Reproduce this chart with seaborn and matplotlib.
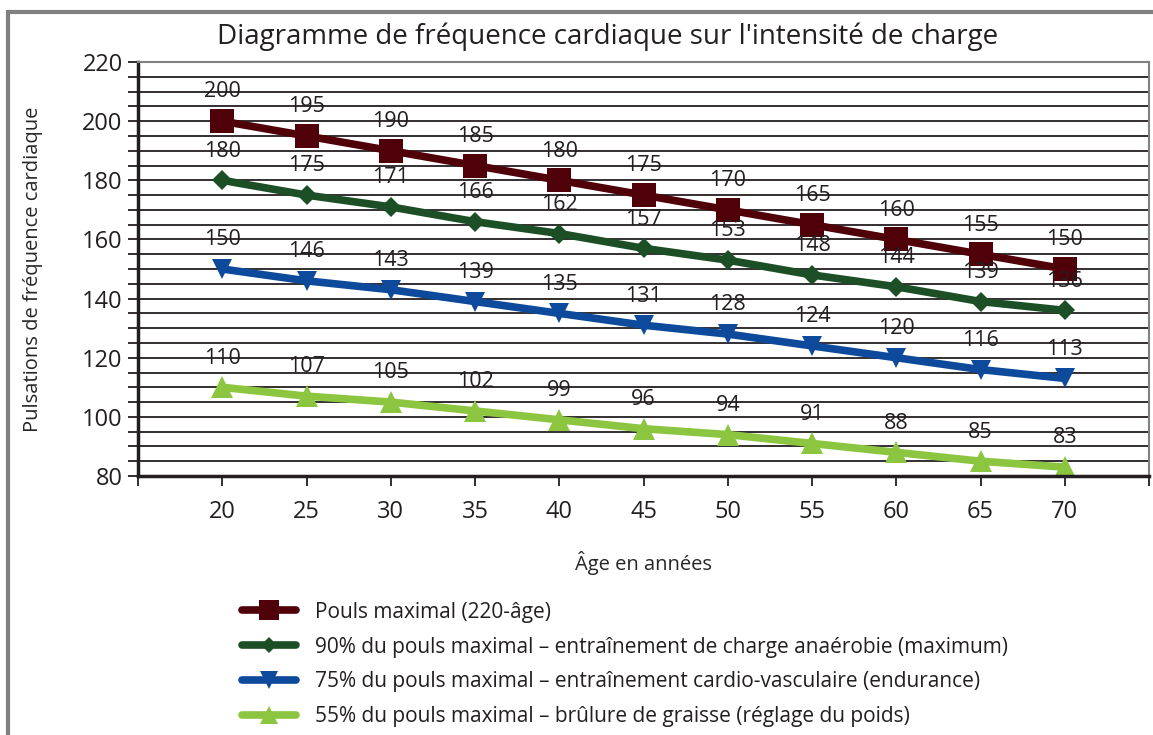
import pandas as pd
import seaborn as sns
import matplotlib.pyplot as plt
from matplotlib.patches import Rectangle

ages = [20, 25, 30, 35, 40, 45, 50, 55, 60, 65, 70]
pouls_max = [200, 195, 190, 185, 180, 175, 170, 165, 160, 155, 150]
pouls_90 = [180, 175, 171, 166, 162, 157, 153, 148, 144, 139, 136]
pouls_75 = [150, 146, 143, 139, 135, 131, 128, 124, 120, 116, 113]
pouls_55 = [110, 107, 105, 102, 99, 96, 94, 91, 88, 85, 83]

labels = [
    "Pouls maximal (220-âge)",
    "90% du pouls maximal – entraînement de charge anaérobie (maximum)",
    "75% du pouls maximal – entraînement cardio-vasculaire (endurance)",
    "55% du pouls maximal – brûlure de graisse (réglage du poids)",
]
colors = ["#4f0008", "#1d4f27", "#0e4a9b", "#8cc540"]
markers = ["s", "D", "v", "^"]
msizes = [17, 10, 15, 16]

sns.set_theme(style="white")
plt.rcParams["font.family"] = ["Open Sans", "DejaVu Sans"]
plt.rcParams["text.color"] = "#231f20"

fig = plt.figure(figsize=(11.53, 7.35), dpi=100)
ax = fig.add_axes([138 / 1153, 1 - 476 / 735, 1011 / 1153, 414 / 735])

# outer frame of the figure
fig.patches.append(Rectangle((8 / 1153, -0.1), 1.2, 1 - 12 / 735 + 0.1,
                             transform=fig.transFigure, fill=False,
                             edgecolor="#808080", linewidth=3))

series = [pouls_max, pouls_90, pouls_75, pouls_55]
for vals, lab, col, mk, ms in zip(series, labels, colors, markers, msizes):
    df = pd.DataFrame({"age": ages, "bpm": vals})
    sns.lineplot(data=df, x="age", y="bpm", ax=ax, color=col, linewidth=5.5,
                 marker=mk, markersize=ms, markeredgewidth=0, label=lab)
    for a, v in zip(ages, vals):
        ax.annotate(str(v), (a, v), xytext=(0, 21), textcoords="offset points",
                    ha="center", va="center", fontsize=15.5, color="#231f20")

ax.set_xlim(15, 75)
ax.set_ylim(80, 220)
ax.set_yticks(range(80, 221, 5))
ax.set_yticklabels([str(t) if t % 20 == 0 else "" for t in range(80, 221, 5)])
ax.set_xticks(range(15, 76, 5))
ax.set_xticklabels([""] + [str(a) for a in ages] + [""])
ax.grid(axis="y", color="#231f20", linewidth=1.3)
ax.grid(axis="x", visible=False)
ax.set_axisbelow(True)
ax.tick_params(axis="both", length=7, width=1.3, color="#231f20",
               labelsize=17, labelcolor="#231f20")
ax.tick_params(axis="x", pad=10)
ax.tick_params(axis="y", pad=4)
ax.tick_params(left=True, bottom=True)

for side in ["left", "bottom"]:
    ax.spines[side].set_color("#231f20")
    ax.spines[side].set_linewidth(2.5)
for side in ["top", "right"]:
    ax.spines[side].set_color("#808080")
    ax.spines[side].set_linewidth(1.5)

ax.set_xlabel("Âge en années", fontsize=14.5, labelpad=20)
ax.set_ylabel("Pulsations de fréquence cardiaque", fontsize=14.5, labelpad=28)
ax.set_title("Diagramme de fréquence cardiaque sur l'intensité de charge",
             fontsize=20, pad=13, x=0.464)

handles, labs = ax.get_legend_handles_labels()
ax.get_legend().remove()
fig.legend(handles, labs, loc="upper left",
           bbox_to_anchor=(223 / 1153, 1 - 583 / 735), frameon=False,
           fontsize=15, handlelength=2.6, labelspacing=0.66, handletextpad=0.9,
           markerscale=0.85)

plt.savefig("out.png", dpi=100)
